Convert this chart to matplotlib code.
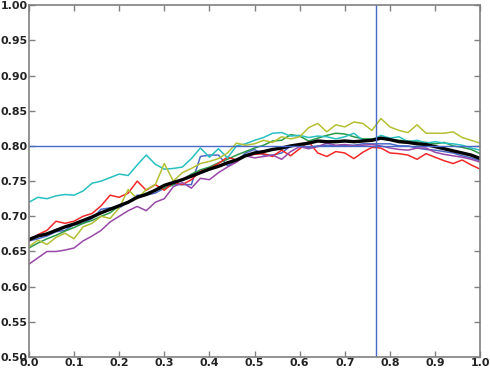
import numpy as np
import matplotlib
matplotlib.use("Agg")
import matplotlib.pyplot as plt

x = np.linspace(0, 1, 51)

red = [0.665, 0.674, 0.680, 0.693, 0.690, 0.693, 0.700, 0.704, 0.715, 0.730,
       0.727, 0.733, 0.750, 0.737, 0.745, 0.737, 0.748, 0.745, 0.752, 0.764,
       0.768, 0.775, 0.784, 0.780, 0.786, 0.788, 0.789, 0.785, 0.794, 0.786,
       0.796, 0.806, 0.790, 0.785, 0.792, 0.790, 0.782, 0.791, 0.798, 0.797,
       0.790, 0.789, 0.787, 0.781, 0.789, 0.784, 0.779, 0.775, 0.780, 0.773,
       0.767]
cyan = [0.720, 0.727, 0.725, 0.729, 0.731, 0.730, 0.736, 0.747, 0.750, 0.755,
        0.760, 0.758, 0.773, 0.787, 0.774, 0.767, 0.768, 0.770, 0.782, 0.797,
        0.784, 0.796, 0.783, 0.800, 0.803, 0.808, 0.812, 0.818, 0.819, 0.814,
        0.815, 0.812, 0.814, 0.813, 0.810, 0.813, 0.818, 0.808, 0.808, 0.815,
        0.811, 0.813, 0.806, 0.808, 0.804, 0.806, 0.804, 0.803, 0.801, 0.797,
        0.794]
yellow = [0.657, 0.666, 0.660, 0.670, 0.676, 0.668, 0.685, 0.690, 0.700, 0.697,
          0.712, 0.738, 0.725, 0.738, 0.745, 0.775, 0.750, 0.762, 0.768, 0.775,
          0.778, 0.782, 0.790, 0.804, 0.801, 0.803, 0.808, 0.805, 0.813, 0.810,
          0.813, 0.826, 0.832, 0.820, 0.830, 0.827, 0.834, 0.832, 0.822, 0.839,
          0.827, 0.822, 0.819, 0.830, 0.818, 0.818, 0.818, 0.820, 0.812, 0.808,
          0.804]
purple = [0.632, 0.641, 0.650, 0.650, 0.652, 0.655, 0.665, 0.672, 0.680, 0.692,
          0.700, 0.708, 0.714, 0.708, 0.720, 0.725, 0.742, 0.748, 0.740, 0.754,
          0.752, 0.762, 0.770, 0.777, 0.786, 0.783, 0.785, 0.787, 0.781, 0.792,
          0.799, 0.796, 0.799, 0.804, 0.801, 0.802, 0.800, 0.801, 0.802, 0.800,
          0.797, 0.795, 0.794, 0.797, 0.797, 0.791, 0.788, 0.786, 0.784, 0.781,
          0.777]
green = [0.655, 0.662, 0.668, 0.673, 0.679, 0.684, 0.690, 0.694, 0.700, 0.705,
         0.715, 0.720, 0.728, 0.733, 0.737, 0.740, 0.745, 0.752, 0.760, 0.766,
         0.770, 0.776, 0.781, 0.787, 0.792, 0.797, 0.801, 0.807, 0.808, 0.816,
         0.814, 0.807, 0.811, 0.815, 0.818, 0.817, 0.813, 0.810, 0.810, 0.812,
         0.809, 0.808, 0.807, 0.806, 0.805, 0.803, 0.805, 0.800, 0.798, 0.795,
         0.789]
blue = [0.665, 0.668, 0.672, 0.678, 0.680, 0.688, 0.690, 0.697, 0.710, 0.712,
        0.712, 0.720, 0.730, 0.730, 0.733, 0.740, 0.745, 0.745, 0.745, 0.785,
        0.787, 0.787, 0.772, 0.778, 0.790, 0.795, 0.787, 0.787, 0.790, 0.800,
        0.800, 0.798, 0.800, 0.801, 0.800, 0.801, 0.801, 0.803, 0.803, 0.803,
        0.803, 0.800, 0.800, 0.797, 0.795, 0.794, 0.792, 0.790, 0.786, 0.783,
        0.779]
mean = [0.667, 0.672, 0.675, 0.680, 0.685, 0.689, 0.694, 0.699, 0.705, 0.710,
        0.715, 0.720, 0.727, 0.731, 0.737, 0.744, 0.748, 0.752, 0.757, 0.762,
        0.767, 0.771, 0.776, 0.780, 0.786, 0.790, 0.792, 0.795, 0.797, 0.800,
        0.802, 0.804, 0.807, 0.806, 0.806, 0.807, 0.806, 0.807, 0.808, 0.811,
        0.809, 0.806, 0.805, 0.803, 0.802, 0.799, 0.796, 0.793, 0.790, 0.787,
        0.782]

best_x = 0.77
best_y = 0.80

xticks = [0.0, 0.1, 0.2, 0.3, 0.4, 0.5, 0.6, 0.7, 0.8, 0.9, 1.0]
yticks = [0.50, 0.55, 0.60, 0.65, 0.70, 0.75, 0.80, 0.85, 0.90, 0.95, 1.00]

fig = plt.figure(figsize=(4.9, 3.7), dpi=100)
ax = fig.add_axes([0.059, 0.035, 0.921, 0.951])

series = [(blue, '#4a68c8'), (green, '#2a9a48'), (red, '#f02828'),
          (cyan, '#28c0c0'), (purple, '#9848a8'), (yellow, '#b4c034')]
for ys, col in series:
    ax.plot(x, ys, color=col, lw=1.1)
ax.plot(x, mean, color='black', lw=2.4)

ax.axhline(best_y, color='#4a68c8', lw=1.0)
ax.axvline(best_x, color='#4a68c8', lw=1.0)

ax.set_xlim(0, 1)
ax.set_ylim(0.5, 1.0)
ax.set_xticks(xticks)
ax.set_yticks(yticks)
ax.set_xticklabels([f"{t:.1f}" for t in xticks])
ax.set_yticklabels([f"{t:.2f}" for t in yticks])
ax.tick_params(direction='in', length=4, width=1, color='#808080',
               top=True, right=True, labelsize=7.9, pad=1)
for lab in ax.get_xticklabels() + ax.get_yticklabels():
    lab.set_fontweight('bold')
    lab.set_color('#222222')
for s in ax.spines.values():
    s.set_color('#808080')
    s.set_linewidth(1.2)

fig.savefig("out.png", dpi=100)
